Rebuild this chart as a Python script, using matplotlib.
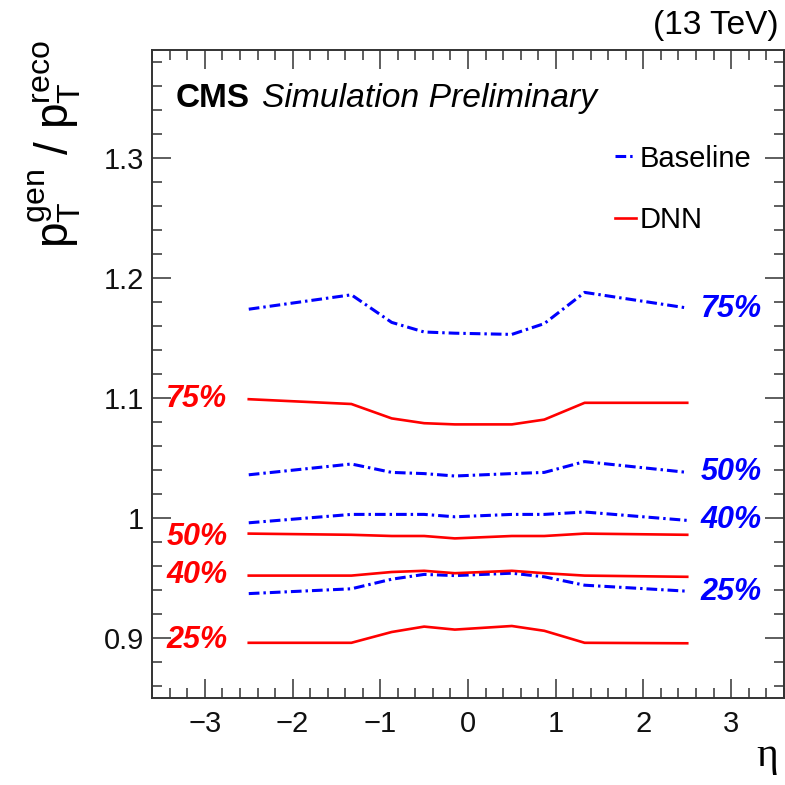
import matplotlib
matplotlib.use("Agg")
import matplotlib.pyplot as plt
from matplotlib.ticker import MultipleLocator, FixedLocator, FixedFormatter

plt.rcParams['font.family'] = ['Liberation Sans', 'DejaVu Sans']
plt.rcParams['mathtext.fontset'] = 'custom'
plt.rcParams['mathtext.rm'] = 'Liberation Sans'
plt.rcParams['mathtext.it'] = 'Liberation Sans:italic'

# ---- data ----
eta = [-2.5, -1.33, -0.87, -0.5, -0.15, 0.5, 0.87, 1.33, 2.5]

base_75 = [1.174, 1.186, 1.163, 1.155, 1.154, 1.153, 1.162, 1.188, 1.175]
base_50 = [1.036, 1.045, 1.038, 1.037, 1.035, 1.037, 1.038, 1.047, 1.038]
base_40 = [0.996, 1.003, 1.003, 1.003, 1.001, 1.003, 1.003, 1.005, 0.998]
base_25 = [0.937, 0.941, 0.949, 0.953, 0.952, 0.954, 0.951, 0.944, 0.939]

dnn_75 = [1.099, 1.095, 1.083, 1.079, 1.078, 1.078, 1.082, 1.096, 1.096]
dnn_50 = [0.987, 0.986, 0.985, 0.985, 0.983, 0.985, 0.985, 0.987, 0.986]
dnn_40 = [0.952, 0.952, 0.955, 0.956, 0.954, 0.956, 0.954, 0.952, 0.951]
dnn_25 = [0.896, 0.896, 0.905, 0.9095, 0.907, 0.910, 0.906, 0.896, 0.8956]

base_labels = ["75%", "50%", "40%", "25%"]
base_label_y = [1.174, 1.038, 0.9985, 0.9385]
dnn_labels = ["75%", "50%", "40%", "25%"]
dnn_label_y = [1.099, 0.984, 0.9525, 0.898]

yticks = [0.9, 1.0, 1.1, 1.2, 1.3]
yticklabels = ["0.9", "1", "1.1", "1.2", "1.3"]
xticks = [-3, -2, -1, 0, 1, 2, 3]
xticklabels = ["\u22123", "\u22122", "\u22121", "0", "1", "2", "3"]

BLUE = (0, 0, 1)
RED = (1, 0, 0)

fig = plt.figure(figsize=(7.85, 7.85), dpi=100)
ax = fig.add_axes([152.3 / 785, 1 - 698 / 785, (783.7 - 152.3) / 785, (698 - 50) / 785])

dash = (0, (3.5, 1.3, 0.8, 1.3))
first = True
for ys in [base_75, base_50, base_40, base_25]:
    ax.plot(eta, ys, color=BLUE, lw=2.2, linestyle=dash, dash_capstyle='butt',
            label="Baseline" if first else None)
    first = False
first = True
for ys in [dnn_75, dnn_50, dnn_40, dnn_25]:
    ax.plot(eta, ys, color=RED, lw=1.9, label="DNN" if first else None)
    first = False

for t, y in zip(base_labels, base_label_y):
    ax.text(2.65, y, t, color=BLUE, fontsize=22, fontweight='bold', style='italic',
            ha='left', va='center')
for t, y in zip(dnn_labels, dnn_label_y):
    ax.text(-3.44, y, t, color=RED, fontsize=22, fontweight='bold', style='italic',
            ha='left', va='center')

ax.set_xlim(-3.6, 3.6)
ax.set_ylim(0.85, 1.39)

ax.xaxis.set_major_locator(FixedLocator(xticks))
ax.xaxis.set_major_formatter(FixedFormatter(xticklabels))
ax.xaxis.set_minor_locator(MultipleLocator(0.2))
ax.yaxis.set_major_locator(FixedLocator(yticks))
ax.yaxis.set_major_formatter(FixedFormatter(yticklabels))
ax.yaxis.set_minor_locator(MultipleLocator(0.02))

for s in ax.spines.values():
    s.set_linewidth(1.4)
    s.set_color('#333333')
ax.tick_params(which='both', direction='in', top=True, right=True, color='#333333',
               width=1.1, labelsize=21, labelcolor='#111111')
ax.tick_params(which='major', length=13.5)
ax.tick_params(which='minor', length=7)
ax.tick_params(axis='x', which='major', pad=9)
ax.tick_params(axis='y', which='major', pad=6)

leg = ax.legend(loc='upper left', bbox_to_anchor=(0.733, 0.854), frameon=False,
                fontsize=21, handlelength=0.7, handletextpad=0.15, labelspacing=1.16,
                borderaxespad=0, borderpad=0)

fig.text(55 / 785, 1 - 40 / 785, r'$\mathregular{p_{T}^{gen}}$ / $\mathregular{p_{T}^{reco}}$',
         rotation=90, ha='center', va='top', fontsize=33)
fig.text(778 / 785, 1 - 766 / 785, '\u03b7', fontsize=30, ha='right', va='baseline',
         family=['Liberation Serif', 'DejaVu Serif'])
fig.text(779 / 785, 1 - 34 / 785, '(13 TeV)', fontsize=24, ha='right', va='baseline')
fig.text(176 / 785, 1 - 107 / 785, 'CMS', fontsize=24, fontweight='bold', ha='left', va='baseline')
fig.text(262 / 785, 1 - 107 / 785, 'Simulation Preliminary', fontsize=24.2, style='italic',
         ha='left', va='baseline')

fig.savefig('out.png', dpi=100)
